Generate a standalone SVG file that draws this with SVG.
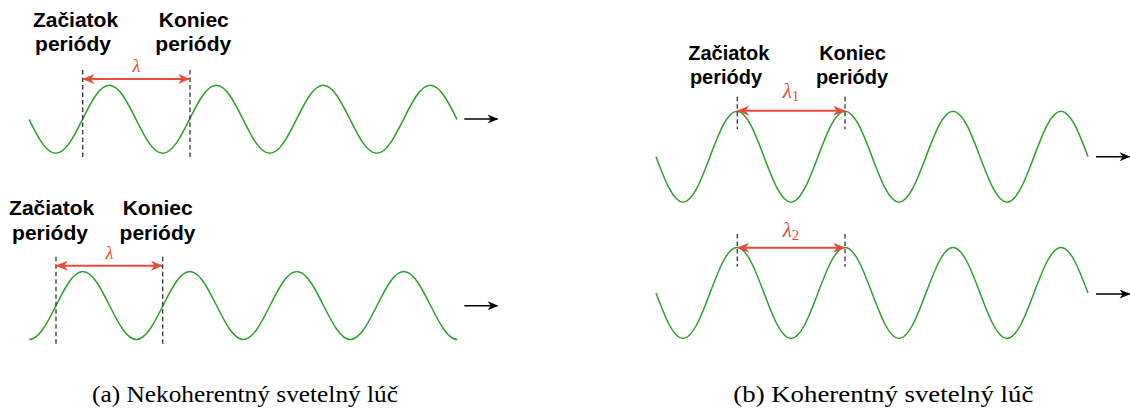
<svg xmlns="http://www.w3.org/2000/svg" width="1130" height="417" viewBox="0 0 1130 417">
<style>
.wave{fill:none;stroke:#2ca02c;stroke-width:1.5}
.dash{stroke:#333;stroke-width:1.3;stroke-dasharray:4.5,3}
.red{stroke:#e74c3c;stroke-width:2;fill:none}
.blk{stroke:#000;stroke-width:1.5;fill:none}
.lbl{font-family:"Liberation Sans",Arial,sans-serif;font-weight:bold;font-size:21px;fill:#000;text-anchor:middle}
.lblr{font-family:"Liberation Sans",Arial,sans-serif;font-weight:bold;font-size:20px;fill:#000;text-anchor:middle}
.lam{font-family:"Liberation Serif","DejaVu Serif",serif;font-style:italic;fill:#e74c3c;text-anchor:middle}
.cap{font-family:"Liberation Serif","DejaVu Serif",serif;font-size:24px;fill:#000;text-anchor:middle}
</style>
<defs>
<marker id="rh" viewBox="0 0 12 10" refX="11" refY="5" markerWidth="12" markerHeight="10" markerUnits="userSpaceOnUse" orient="auto-start-reverse">
<path d="M0,0 L12,5 L0,10 L3.5,5 z" fill="#e74c3c"/>
</marker>
<marker id="bh" viewBox="0 0 12 10" refX="11" refY="5" markerWidth="12" markerHeight="9" markerUnits="userSpaceOnUse" orient="auto">
<path d="M0,0 L12,5 L0,10 L3.5,5 z" fill="#000"/>
</marker>
</defs>
<rect width="1130" height="417" fill="#fff"/>

<g id="wave-a1">
<path class="wave" d="M29,119.3 c8.72,17.42 17.07,34 26.75,34 c9.68,0 18.03,-16.58 26.75,-34 c8.72,-17.42 17.07,-34 26.75,-34 c9.68,0 18.03,16.58 26.75,34 c8.72,17.42 17.07,34 26.75,34 c9.68,0 18.03,-16.58 26.75,-34 c8.72,-17.42 17.07,-34 26.75,-34 c9.68,0 18.03,16.58 26.75,34 c8.72,17.42 17.07,34 26.75,34 c9.68,0 18.03,-16.58 26.75,-34 c8.72,-17.42 17.07,-34 26.75,-34 c9.68,0 18.03,16.58 26.75,34 c8.72,17.42 17.07,34 26.75,34 c9.68,0 18.03,-16.58 26.75,-34 c8.72,-17.42 17.07,-34 26.75,-34 c9.68,0 18.03,16.58 26.75,34"/>
<line class="dash" x1="82.7" y1="70" x2="82.7" y2="160"/>
<line class="dash" x1="190" y1="70" x2="190" y2="160"/>
<text class="lbl" x="75.5" y="27">Začiatok</text>
<text class="lbl" x="73" y="51">periódy</text>
<text class="lbl" x="193.8" y="27">Koniec</text>
<text class="lbl" x="193.3" y="51">periódy</text>
<text class="lam" x="136.5" y="71.5" font-size="18">λ</text>
</g>

<g id="wave-a2">
<path class="wave" d="M29.3,339.5 c9.68,0 18.03,-16.58 26.75,-34 c8.72,-17.42 17.07,-34 26.75,-34 c9.68,0 18.03,16.58 26.75,34 c8.72,17.42 17.07,34 26.75,34 c9.68,0 18.03,-16.58 26.75,-34 c8.72,-17.42 17.07,-34 26.75,-34 c9.68,0 18.03,16.58 26.75,34 c8.72,17.42 17.07,34 26.75,34 c9.68,0 18.03,-16.58 26.75,-34 c8.72,-17.42 17.07,-34 26.75,-34 c9.68,0 18.03,16.58 26.75,34 c8.72,17.42 17.07,34 26.75,34 c9.68,0 18.03,-16.58 26.75,-34 c8.72,-17.42 17.07,-34 26.75,-34 c9.68,0 18.03,16.58 26.75,34 c8.72,17.42 17.07,34 26.75,34"/>
<line class="dash" x1="56" y1="256.7" x2="56" y2="346.7"/>
<line class="dash" x1="162.7" y1="256.7" x2="162.7" y2="346.7"/>
<text class="lbl" x="51.7" y="215">Začiatok</text>
<text class="lbl" x="50" y="240">periódy</text>
<text class="lbl" x="157.7" y="215">Koniec</text>
<text class="lbl" x="157.5" y="240">periódy</text>
<text class="lam" x="109.3" y="258.5" font-size="18">λ</text>
</g>

<g id="wave-b1">
<path class="wave" d="M656,156.7 c8.8,23.31 17.23,45.5 27,45.5 c9.77,0 18.2,-22.19 27,-45.5 c8.8,-23.31 17.23,-45.5 27,-45.5 c9.77,0 18.2,22.19 27,45.5 c8.8,23.31 17.23,45.5 27,45.5 c9.77,0 18.2,-22.19 27,-45.5 c8.8,-23.31 17.23,-45.5 27,-45.5 c9.77,0 18.2,22.19 27,45.5 c8.8,23.31 17.23,45.5 27,45.5 c9.77,0 18.2,-22.19 27,-45.5 c8.8,-23.31 17.23,-45.5 27,-45.5 c9.77,0 18.2,22.19 27,45.5 c8.8,23.31 17.23,45.5 27,45.5 c9.77,0 18.2,-22.19 27,-45.5 c8.8,-23.31 17.23,-45.5 27,-45.5 c9.77,0 18.2,22.19 27,45.5"/>
<line class="dash" x1="737.3" y1="96.7" x2="737.3" y2="129.3"/>
<line class="dash" x1="845" y1="96.7" x2="845" y2="129.3"/>
<text class="lblr" x="728.8" y="60">Začiatok</text>
<text class="lblr" x="726" y="84">periódy</text>
<text class="lblr" x="852.5" y="60">Koniec</text>
<text class="lblr" x="852" y="84">periódy</text>
<text class="lam" x="791" y="98" font-size="21">λ<tspan font-style="normal" font-size="15" dy="3">1</tspan></text>
</g>

<g id="wave-b2">
<path class="wave" d="M656,293 c8.8,23.31 17.23,45.5 27,45.5 c9.77,0 18.2,-22.19 27,-45.5 c8.8,-23.31 17.23,-45.5 27,-45.5 c9.77,0 18.2,22.19 27,45.5 c8.8,23.31 17.23,45.5 27,45.5 c9.77,0 18.2,-22.19 27,-45.5 c8.8,-23.31 17.23,-45.5 27,-45.5 c9.77,0 18.2,22.19 27,45.5 c8.8,23.31 17.23,45.5 27,45.5 c9.77,0 18.2,-22.19 27,-45.5 c8.8,-23.31 17.23,-45.5 27,-45.5 c9.77,0 18.2,22.19 27,45.5 c8.8,23.31 17.23,45.5 27,45.5 c9.77,0 18.2,-22.19 27,-45.5 c8.8,-23.31 17.23,-45.5 27,-45.5 c9.77,0 18.2,22.19 27,45.5"/>
<line class="dash" x1="737.3" y1="234" x2="737.3" y2="266.7"/>
<line class="dash" x1="845" y1="234" x2="845" y2="266.7"/>
<text class="lam" x="791" y="236.5" font-size="21">λ<tspan font-style="normal" font-size="15" dy="3">2</tspan></text>
</g>

<g id="connectors">
<line class="red" x1="83.5" y1="79" x2="189.2" y2="79" marker-start="url(#rh)" marker-end="url(#rh)"/>
<line class="red" x1="56.8" y1="265.7" x2="161.9" y2="265.7" marker-start="url(#rh)" marker-end="url(#rh)"/>
<line class="red" x1="738.1" y1="110.7" x2="844.2" y2="110.7" marker-start="url(#rh)" marker-end="url(#rh)"/>
<line class="red" x1="738.1" y1="247.7" x2="844.2" y2="247.7" marker-start="url(#rh)" marker-end="url(#rh)"/>
<line class="blk" x1="464.3" y1="119" x2="497.5" y2="119" marker-end="url(#bh)"/>
<line class="blk" x1="464.3" y1="305.7" x2="497.5" y2="305.7" marker-end="url(#bh)"/>
<line class="blk" x1="1096" y1="156.7" x2="1129.5" y2="156.7" marker-end="url(#bh)"/>
<line class="blk" x1="1096" y1="294" x2="1129.5" y2="294" marker-end="url(#bh)"/>
</g>

<g id="captions">
<text class="cap" x="245" y="402" textLength="306" lengthAdjust="spacingAndGlyphs">(a) Nekoherentný svetelný lúč</text>
<text class="cap" x="883.3" y="402" textLength="300" lengthAdjust="spacingAndGlyphs">(b) Koherentný svetelný lúč</text>
</g>
</svg>
